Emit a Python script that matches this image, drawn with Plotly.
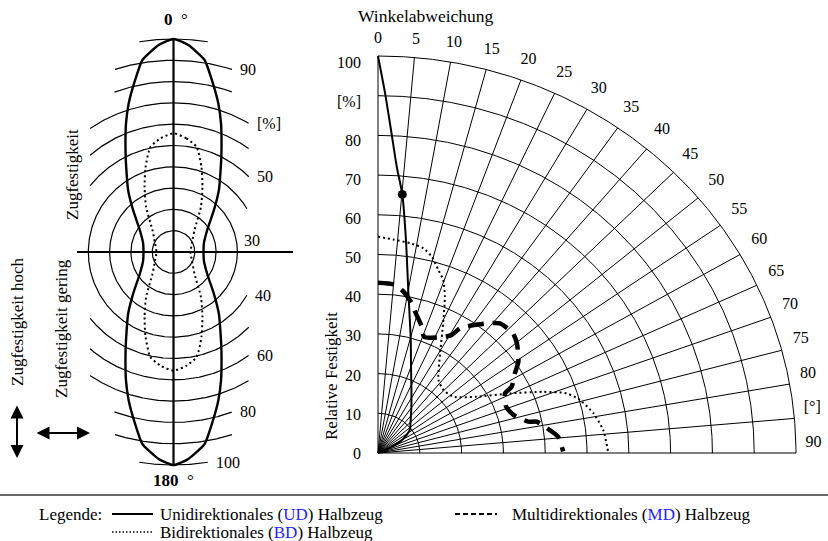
import numpy as np
import plotly.graph_objects as go

# ---------------- DATA ----------------
# Right chart: relative strength [%] over angular deviation [deg]
ud_angle = [0, 1.1, 2.3, 3.55, 5.1, 7.1, 10, 15.4, 20, 26.7, 35, 43.3, 52, 56.6, 61.5, 65, 70]
ud_strength = [100, 90.4, 80.6, 72.3, 65.4, 54.1, 41.7, 29.5, 23.1, 17.8, 13.9, 11.4, 9.7, 8.2, 6.0, 3.2, 0]
ud_marker_angle = [5.1]
ud_marker_strength = [65.4]

bd_angle = [0, 3.9, 8.25, 11.9, 14.6, 17.4, 19.7, 22.1, 25.5, 30.6, 38.2, 44.5, 51.7, 59,
            64.6, 68.7, 71.6, 74.5, 79, 83.9, 90]
bd_strength = [54.5, 53.9, 53.4, 52.7, 51.1, 48.3, 46.3, 42.5, 36.2, 29.2, 23.4, 22.3, 22.9, 27.5,
               35, 42.4, 47.6, 50.1, 52.5, 54.2, 55.1]

md_angle = [0, 4.9, 7.9, 12.1, 14, 18.2, 20.6, 27.6, 30.6, 32, 35.5, 39.3, 41.8, 46.8, 50.3,
            55.6, 58.5, 62.4, 63.7, 69.1, 73.5, 77.6, 78.3, 82, 84.6, 89.5]
md_strength = [42.9, 42.65, 41.45, 38.6, 36.7, 33.5, 31.3, 32.9, 34.5, 37, 39.6, 42.3, 43.8, 44.2, 43.2,
               40.7, 38.4, 36.1, 33.9, 32.8, 33.8, 36.8, 38.8, 41.5, 43.3, 44.3]

# Left diagram: tensile strength [%] over fibre direction (one quadrant, symmetric)
left_ud_angle = [0, 4.1, 9.2, 12.9, 16.8, 20.3, 25.6, 30.4, 36.2, 43.9, 56.9, 73.5, 90]
left_ud_strength = [100, 97.4, 91.3, 81.9, 72.8, 64.3, 52.1, 43.6, 36.1, 27.4, 18.9, 14.9, 14.1]
left_bd_angle = [0, 6.5, 12.4, 18.2, 24, 31.4, 43.7, 64.8, 90]
left_bd_strength = [55.7, 53.7, 50.5, 42.0, 33.4, 24.7, 14.3, 9.6, 8.0]

# Tick labels
angle_tick_values = list(range(0, 91, 5))
angle_tick_text = ["0", "5", "10", "15", "20", "25", "30", "35", "40", "45", "50", "55",
                   "60", "65", "70", "75", "80", "[°]", "90"]
strength_tick_values = list(range(0, 101, 10))
strength_tick_text = ["0", "10", "20", "30", "40", "50", "60", "70", "80", "[%]", "100"]
ring_values = [10, 20, 30, 40, 50, 60, 70, 80, 90, 100]
ring_label_values = [30, 40, 50, 60, 70, 80, 90, 100]
ring_label_text = ["30", "40", "50", "60", "[%]", "80", "90", "100"]

# ---------------- STYLE / LAYOUT ----------------
W, H = 828, 541
FONT = "Liberation Serif"
BLUE = "#1f1fff"

def px(x):
    return x / W

def py(y):
    return 1 - y / H

def to_xy(angle_deg, r):
    a = np.radians(np.asarray(angle_deg, float))
    r = np.asarray(r, float)
    return r * np.sin(a), r * np.cos(a)

def mirror_full(angle, r):
    a = np.asarray(angle, float)
    r = np.asarray(r, float)
    A = np.concatenate([a, 180 - a[::-1][1:], 180 + a[1:], 360 - a[::-1][1:]])
    R = np.concatenate([r, r[::-1][1:], r[1:], r[::-1][1:]])
    return A, R

fig = go.Figure()

# ---- right chart grid ----
gx, gy = [], []
th = np.linspace(0, 90, 361)
for r in strength_tick_values[1:]:
    x, y = to_xy(th, np.full_like(th, r))
    gx += list(x) + [None]
    gy += list(y) + [None]
for a in angle_tick_values:
    x, y = to_xy([a, a], [0, 100])
    gx += list(x) + [None]
    gy += list(y) + [None]
fig.add_trace(go.Scatter(x=gx, y=gy, mode="lines", line=dict(color="black", width=1),
                         xaxis="x2", yaxis="y2", hoverinfo="skip", showlegend=False))

# ---- right chart series ----
x, y = to_xy(bd_angle, bd_strength)
fig.add_trace(go.Scatter(x=x, y=y, mode="lines", name="BD",
                         line=dict(color="black", width=2, dash="2px,3px", shape="spline", smoothing=0.6),
                         xaxis="x2", yaxis="y2", showlegend=False))
x, y = to_xy(md_angle, md_strength)
fig.add_trace(go.Scatter(x=x, y=y, mode="lines", name="MD",
                         line=dict(color="black", width=4.5, dash="16px,9px", shape="spline", smoothing=0.6),
                         xaxis="x2", yaxis="y2", showlegend=False))
x, y = to_xy(ud_angle, ud_strength)
fig.add_trace(go.Scatter(x=x, y=y, mode="lines", name="UD",
                         line=dict(color="black", width=2, shape="spline", smoothing=0.6),
                         xaxis="x2", yaxis="y2", showlegend=False))
x, y = to_xy(ud_marker_angle, ud_marker_strength)
fig.add_trace(go.Scatter(x=x, y=y, mode="markers", marker=dict(color="black", size=9),
                         xaxis="x2", yaxis="y2", showlegend=False))

# angular tick labels (just outside the outer arc)
lab_ang = np.asarray(angle_tick_values, float)
lab_r = 104.2 + 1.8 * np.sin(np.radians(2 * lab_ang))
lab_ang = lab_ang - 1.4 * (lab_ang / 90.0) ** 3
x, y = to_xy(lab_ang, lab_r)
fig.add_trace(go.Scatter(x=x, y=y, mode="text", text=angle_tick_text,
                         textfont=dict(family=FONT, size=16, color="black"),
                         xaxis="x2", yaxis="y2", cliponaxis=False, showlegend=False, hoverinfo="skip"))

# empty trace that attaches the strength tick-label axis
fig.add_trace(go.Scatter(x=[None], y=[None], mode="markers", xaxis="x2", yaxis="y3",
                         showlegend=False, hoverinfo="skip"))

# ---- left diagram rings ----
ring_left_clip = [None, None, None, None, -39.2, -39.2, -39.2, -27.8, -27.8, -16.5]
ring_right_clip = [None, None, None, 34.5, 35.4, 35.4, 35.4, 27.6, 27.6, 16.3]
lx, ly = [], []
tt = np.linspace(0, 360, 1441)
for r, lo, hi in zip(ring_values, ring_left_clip, ring_right_clip):
    x, y = to_xy(tt, np.full_like(tt, r))
    ok = np.ones_like(x, bool)
    if lo is not None:
        ok &= x >= lo
    if hi is not None:
        ok &= x <= hi
    lx += [float(v) if k else None for v, k in zip(x, ok)] + [None]
    ly += [float(v) if k else None for v, k in zip(y, ok)] + [None]
fig.add_trace(go.Scatter(x=lx, y=ly, mode="lines", line=dict(color="black", width=1.2),
                         xaxis="x", yaxis="y", hoverinfo="skip", showlegend=False, connectgaps=False))

# axes cross of the left diagram
fig.add_trace(go.Scatter(x=[-45.3, 56.1, None, 0, 0], y=[0, 0, None, -100, 100], mode="lines",
                         line=dict(color="black", width=2.2), xaxis="x", yaxis="y",
                         hoverinfo="skip", showlegend=False))

A, R = mirror_full(left_bd_angle, left_bd_strength)
x, y = to_xy(A, R)
fig.add_trace(go.Scatter(x=x, y=y, mode="lines", line=dict(color="black", width=2, dash="2px,3px",
                         shape="spline", smoothing=0.6), xaxis="x", yaxis="y", showlegend=False))
A, R = mirror_full(left_ud_angle, left_ud_strength)
x, y = to_xy(A, R)
fig.add_trace(go.Scatter(x=x, y=y, mode="lines", line=dict(color="black", width=2.4,
                         shape="spline", smoothing=0.5), xaxis="x", yaxis="y", showlegend=False))

# ---- annotations ----
ann = []
txt = dict(family=FONT, size=17, color="black")

# ring labels of the left diagram
for v, t in zip(ring_label_values, ring_label_text):
    i = ring_values.index(v)
    hi = ring_right_clip[i]
    if hi is None:
        ax_, ay_ = to_xy([80], [v])
        ax_, ay_ = float(ax_[0]), float(ay_[0])
    else:
        ax_ = hi
        ay_ = float(np.sqrt(v * v - hi * hi)) * (1 if (v // 10) % 2 == 1 else -1)
    ann.append(dict(x=ax_, y=ay_, xref="x", yref="y", text=t, showarrow=False,
                    xanchor="left", yanchor="middle", xshift=6,
                    font=dict(family=FONT, size=16, color="black")))

ann += [
    dict(x=px(426), y=py(16), text="Winkelabweichung", font=dict(family=FONT, size=17.5, color="black")),
    dict(x=px(331), y=py(376), text="Relative Festigkeit", textangle=-90, font=txt),
    dict(x=px(72), y=py(175), text="Zugfestigkeit", textangle=-90, font=txt),
    dict(x=px(61), y=py(328), text="Zugfestigkeit gering", textangle=-90, font=txt),
    dict(x=px(17), y=py(322), text="Zugfestigkeit hoch", textangle=-90, font=txt),
    dict(x=px(176), y=py(19), text="<b>0</b>\u00a0\u00a0°", font=txt),
    dict(x=px(173), y=py(480), text="<b>180</b>\u00a0\u00a0°", font=txt),
    dict(x=px(37), y=py(514), text="Legende:", xanchor="left", font=txt),
    dict(x=px(158), y=py(514), xanchor="left", font=txt,
         text=f'Unidirektionales (<span style="color:{BLUE}">UD</span>) Halbzeug'),
    dict(x=px(158), y=py(532), xanchor="left", font=txt,
         text=f'Bidirektionales (<span style="color:{BLUE}">BD</span>) Halbzeug'),
    dict(x=px(510), y=py(514), xanchor="left", font=txt,
         text=f'Multidirektionales (<span style="color:{BLUE}">MD</span>) Halbzeug'),
]
for a in ann:
    a.setdefault("xref", "paper")
    a.setdefault("yref", "paper")
    a.setdefault("showarrow", False)
    a.setdefault("xanchor", "center")
    a.setdefault("yanchor", "middle")

# double arrows
for (x0, y0, dx, dy) in [(17, 458, 0, -54), (90, 433, -55, 0)]:
    ann.append(dict(x=px(x0), y=py(y0), xref="paper", yref="paper", ax=dx, ay=dy,
                    axref="pixel", ayref="pixel", text="", showarrow=True, arrowhead=2,
                    arrowside="end+start", arrowsize=1.3, arrowwidth=2, arrowcolor="black",
                    standoff=0, startstandoff=0))

shapes = [
    dict(type="line", xref="paper", yref="paper", x0=0, x1=1, y0=py(495), y1=py(495),
         line=dict(color="#333333", width=1.5)),
    dict(type="line", xref="paper", yref="paper", x0=px(112), x1=px(153), y0=py(514), y1=py(514),
         line=dict(color="black", width=2)),
    dict(type="line", xref="paper", yref="paper", x0=px(112), x1=px(153), y0=py(532), y1=py(532),
         line=dict(color="black", width=1.5, dash="1.5px,2px")),
    dict(type="line", xref="paper", yref="paper", x0=px(455), x1=px(497), y0=py(514), y1=py(514),
         line=dict(color="black", width=2, dash="5px,3px")),
]

hidden = dict(visible=False, showgrid=False, zeroline=False, fixedrange=True)
fig.update_layout(
    width=W, height=H, autosize=False,
    margin=dict(l=0, r=0, t=0, b=0),
    paper_bgcolor="white", plot_bgcolor="rgba(0,0,0,0)",
    showlegend=False,
    font=dict(family=FONT, color="black"),
    xaxis=dict(domain=[0, px(330)], range=[-173.5 / 2.13, (330 - 173.5) / 2.13], anchor="y", **hidden),
    yaxis=dict(domain=[py(500), py(5)], range=[(252 - 500) / 2.13, (252 - 5) / 2.13], anchor="x", **hidden),
    xaxis2=dict(domain=[px(362), 1], range=[(362 - 378) / 4.18, (828 - 378) / 4.18], anchor="y2", **hidden),
    yaxis2=dict(domain=[py(475), py(10)], range=[(453 - 475) / 3.97, (453 - 10) / 3.97], anchor="x2",
                **hidden),
    # tick-label axis for the relative strength (labels sit slightly tighter than the arcs)
    yaxis3=dict(overlaying="y2", anchor="x2", side="left",
                range=[-(475 - 453) / 3.905, 100 + (62.5 - 10) / 3.905],
                showgrid=False, zeroline=False, showline=False, ticks="", fixedrange=True,
                tickvals=strength_tick_values, ticktext=strength_tick_text,
                tickfont=dict(family=FONT, size=16, color="black")),
    annotations=ann,
    shapes=shapes,
)

fig.write_html("out.html", include_plotlyjs=True, config={"displayModeBar": False},
               post_script="document.body.style.margin='0';document.body.style.overflow='hidden';")
